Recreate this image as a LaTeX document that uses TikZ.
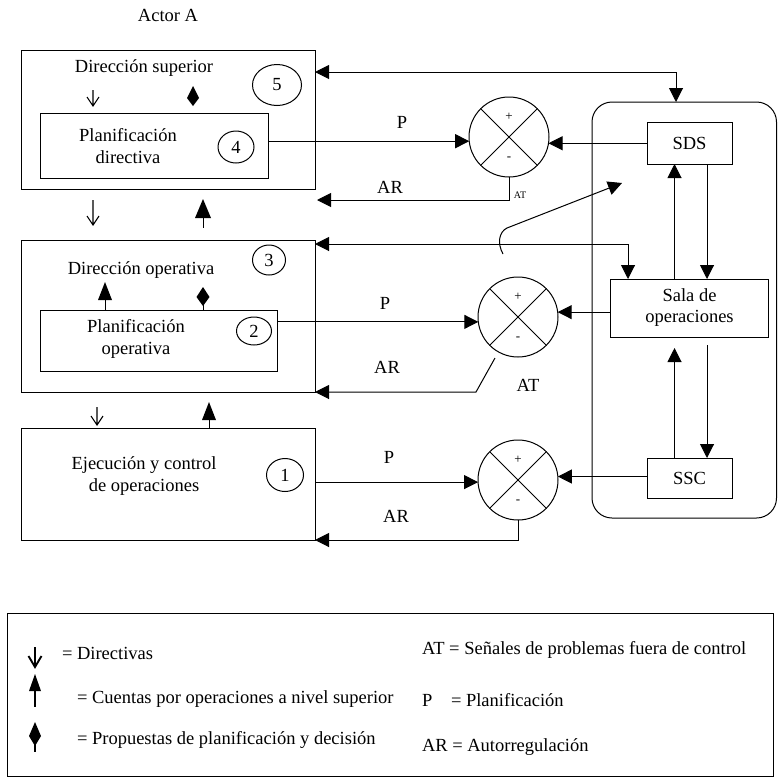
\documentclass[tikz,border=0pt]{standalone}
\usepackage{fontspec}
\setmainfont{Liberation Serif}
\usetikzlibrary{arrows.meta,shapes.geometric}
\begin{document}
\begin{tikzpicture}[x=1pt,y=-1pt, line width=1pt,
  >={Triangle[length=14pt,width=14pt]},
  every node/.style={inner sep=0pt, outer sep=0pt},
  txt/.style={font=\fontsize{18.5}{22}\selectfont, align=center},
  box/.style={draw, rectangle},
  num/.style={draw, ellipse, font=\fontsize{18.5}{22}\selectfont},
  sumj/.style={draw, circle, minimum size=80pt},
  arr/.style={->},
  darr/.style={<->},
  sgn/.style={font=\fontsize{13}{13}\selectfont},
  sym/.style={line width=1.1pt},
]
\useasboundingbox (0,0) rectangle (778,777);

% level 5 / 4
\node[txt] (actor) at (168,15) {Actor A};
\node[box, minimum width=294pt, minimum height=139pt] (b5) at (168,119.5) {};
\node[txt] (t5) at (144,68) {Dirección superior};
\node[num, minimum width=49pt, minimum height=41pt] (c5) at (277,85) {5};
\node[box, minimum width=228pt, minimum height=65pt] (b4) at (154,145.5) {};
\node[txt] (t4) at (128,146) {Planificación\\directiva};
\node[num, minimum width=36pt, minimum height=32pt] (c4) at (236,147) {4};

% level 3 / 2
\node[box, minimum width=294pt, minimum height=152pt] (b3) at (168,316) {};
\node[txt] (t3) at (141,270) {Dirección operativa};
\node[num, minimum width=33pt, minimum height=30pt] (c3) at (269,260) {3};
\node[box, minimum width=237pt, minimum height=61pt] (b2) at (158.5,340.5) {};
\node[txt] (t2) at (136,339) {Planificación\\operativa};
\node[num, minimum width=35pt, minimum height=28pt] (c2) at (254,331) {2};

% level 1
\node[box, minimum width=294pt, minimum height=112pt] (b1) at (168,484) {};
\node[txt] (t1) at (144,476) {Ejecución y control\\de operaciones};
\node[num, minimum width=37pt, minimum height=33pt] (c1) at (285,475) {1};

% summing junctions
\node[sumj] (sj1) at (509,137) {};
\node[sumj] (sj2) at (518,317) {};
\node[sumj] (sj3) at (518,480) {};
\foreach \s in {sj1,sj2,sj3}{
  \draw (\s.45) -- (\s.225) (\s.135) -- (\s.315);
  \node[sgn] (\s-p) at ([yshift=20pt]\s.center) {+};
  \node[sgn] (\s-m) at ([yshift=-22pt]\s.center) {-};
}

% operations room
\node[draw, rounded corners=20pt, minimum width=184.5pt, minimum height=416pt] (ops) at (684.25,310) {};
\node[box, txt, minimum width=85pt, minimum height=42pt] (sds) at (689.5,143) {SDS};
\node[box, txt, font=\fontsize{18.5}{21}\selectfont, minimum width=158pt, minimum height=58pt] (sala) at (689.5,308) {Sala de\\operaciones};
\node[box, txt, minimum width=85pt, minimum height=40pt] (ssc) at (689.5,478) {SSC};

% junction 1
\draw[arr] (b4.east |- sj1.186) -- (sj1.186);
\node[txt] (p1) at (402,122) {P};
\draw[arr] (sds.west |- sj1.351) -- (sj1.351);
\draw[arr] (sj1.south) |- ([xshift=2pt,yshift=-11pt]b5.south east);
\node[txt] (ar1) at (390,187) {AR};
\node[font=\fontsize{10}{10}\selectfont] (at1) at (520,195) {AT};

% junction 2
\draw[arr] (b2.east |- sj2.187) -- (sj2.187);
\node[txt] (p2) at (385,303) {P};
\draw[arr] (sala.west |- sj2.7) -- (sj2.7);
\coordinate (at2) at (495,358);
\draw[arr] (at2) -- (476,392) -- (b3.south east);
\node[txt] (ar2) at (387,367) {AR};
\node[txt] (at2l) at (528,385) {AT};

% junction 3
\draw[arr] (b1.east |- sj3.183) -- (sj3.183);
\node[txt] (p3) at (389,457) {P};
\draw[arr] (ssc.west |- sj3.5) -- (sj3.5);
\draw[arr] (sj3.south) |- (b1.south east);
\node[txt] (ar3) at (396,516) {AR};

% double links
\draw[darr] ([yshift=-22pt]b5.north east) -| ([xshift=-8.25pt]ops.north);
\draw[darr] ([yshift=-4pt]b3.north east) -| ([xshift=-61.5pt]sala.north);

% AT curve
\coordinate (atc) at (503,254);
\coordinate (ate) at (622,183);
\draw[arr] (atc) .. controls (497,243) and (499,232) .. (507,228) -- (ate);

% inside operations room
\draw[arr] ([xshift=-15pt]sala.north) -- ([xshift=-15pt]sds.south);
\draw[arr] ([xshift=17.5pt]sds.south) -- ([xshift=17.5pt]sala.north);
\draw[arr, shorten >=11pt] ([xshift=-15pt]ssc.north) -- ([xshift=-15pt]sala.south);
\draw[arr, shorten <=8pt] ([xshift=17.5pt]sala.south) -- ([xshift=17.5pt]ssc.north);

% symbols in diagram
\draw[sym] (93,90) -- (93,106) (87,97) -- (93,106) -- (99,97);
\draw[sym] (93,200) -- (93,225) (87,216) -- (93,225) -- (99,216);
\draw[sym] (97,407) -- (97,425) (91,416) -- (97,425) -- (103,416);
\fill (203,199) -- (195,218) -- (211,218) -- cycle; \draw (203,218) -- (203,228);
\fill (105,282) -- (98,300) -- (112,300) -- cycle; \draw (105,300) -- (105,310);
\fill (209,402) -- (202,420) -- (216,420) -- cycle; \draw (209,420) -- (209,428);
\fill (193,86) -- (187,98) -- (193,106) -- (199,98) -- cycle;
\fill (203,287) -- (196.5,297) -- (203,306) -- (209.5,297) -- cycle; \draw (203,305) -- (203,310);

% legend
\node[draw, minimum width=766pt, minimum height=163pt] (leg) at (390,694.5) {};
\draw[line width=1.9pt] (35,647) -- (35,665) (28.5,656) -- (35,667) -- (41.5,656);
\fill (35,674) -- (29,691) -- (41,691) -- cycle; \draw[line width=1.3pt] (35,690) -- (35,707);
\fill (35,722) -- (29,736) -- (35,746) -- (41,736) -- cycle; \draw[line width=1.3pt] (35,744) -- (35,752);
\node[txt, anchor=base west] (l1) at (62,659) {= Directivas};
\node[txt, anchor=base west] (l2) at (77,703) {= Cuentas por operaciones a nivel superior};
\node[txt, anchor=base west] (l3) at (77,744) {= Propuestas de planificación y decisión};
\node[txt, anchor=base west] (k1) at (422,654) {AT = Señales de problemas fuera de control};
\node[txt, anchor=base west] (k2) at (422,706) {P};
\node[txt, anchor=base west] (k2d) at (451,706) {= Planificación};
\node[txt, anchor=base west] (k3) at (422,751) {AR = Autorregulación};
\end{tikzpicture}
\end{document}
